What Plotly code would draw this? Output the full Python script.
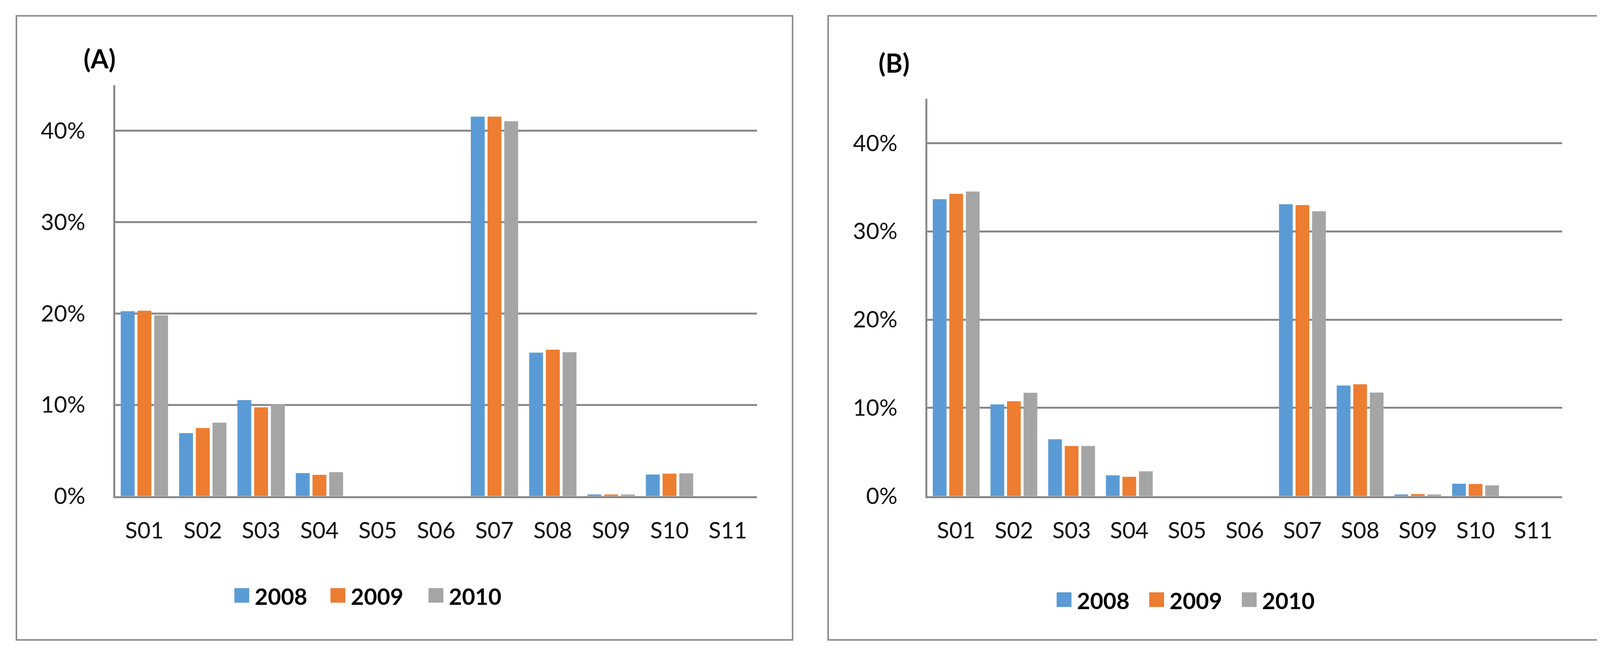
import plotly.graph_objects as go

categories = ["S01", "S02", "S03", "S04", "S05", "S06", "S07", "S08", "S09", "S10", "S11"]
years = ["2008", "2009", "2010"]
colors = ["#5B9BD5", "#ED7D31", "#A5A5A5"]

# Panel (A) shares
a_2008 = [0.2025, 0.069, 0.1052, 0.0253, 0.0, 0.0, 0.4155, 0.1572, 0.0018, 0.0237, 0.0]
a_2009 = [0.2030, 0.0746, 0.0973, 0.0233, 0.0, 0.0, 0.4155, 0.1604, 0.0018, 0.0246, 0.0]
a_2010 = [0.1980, 0.0805, 0.1008, 0.0262, 0.0, 0.0, 0.4105, 0.1576, 0.0018, 0.0250, 0.0]

# Panel (B) shares
b_2008 = [0.3365, 0.1040, 0.0644, 0.0236, 0.0, 0.0, 0.3307, 0.1253, 0.0019, 0.0141, 0.0]
b_2009 = [0.3426, 0.1075, 0.0568, 0.0220, 0.0, 0.0, 0.3298, 0.1267, 0.0024, 0.0137, 0.0]
b_2010 = [0.3451, 0.1171, 0.0568, 0.0281, 0.0, 0.0, 0.3227, 0.1173, 0.0019, 0.0122, 0.0]

y_ticks = [0, 0.1, 0.2, 0.3, 0.4]

FW, FH = 4124, 1702
FONT = "Lato"
GRID = "#898989"


def px(x):
    return x / FW


def py(y):
    return 1 - y / FH


fig = go.Figure()
for vals, yr, col in zip([a_2008, a_2009, a_2010], years, colors):
    fig.add_trace(go.Bar(x=categories, y=vals, name=yr, marker_color=col,
                         marker_line_width=0, xaxis="x", yaxis="y", showlegend=False))
for vals, yr, col in zip([b_2008, b_2009, b_2010], years, colors):
    fig.add_trace(go.Bar(x=categories, y=vals, name=yr, marker_color=col,
                         marker_line_width=0, xaxis="x2", yaxis="y2", showlegend=False))

yax = dict(range=[0, 0.45], tickvals=y_ticks, tickformat=".0%", showgrid=True,
           gridcolor=GRID, gridwidth=5, showline=True, linecolor=GRID, linewidth=5,
           zeroline=False, ticks="", ticklabelstandoff=60,
           tickfont=dict(family=FONT, size=58, color="#111111"))
xax = dict(showgrid=False, showline=True, linecolor=GRID, linewidth=5, ticks="",
           ticklabelstandoff=34, tickfont=dict(family=FONT, size=58, color="#111111"))

fig.update_layout(
    width=FW, height=FH,
    margin=dict(l=0, r=0, t=0, b=0),
    paper_bgcolor="white", plot_bgcolor="white",
    barmode="group", bargap=0.14, bargroupgap=0.17,
    showlegend=False,
    xaxis=dict(domain=[px(287), px(1930)], anchor="y", **xax),
    yaxis=dict(domain=[py(1286), py(214)], anchor="x", **yax),
    xaxis2=dict(domain=[px(2366), px(3991)], anchor="y2", **xax),
    yaxis2=dict(domain=[py(1286), py(250)], anchor="x2", **yax),
)

shapes = []
annotations = []
# panel borders
for x0, x1 in [(34, 2021), (2112, 4083)]:
    shapes.append(dict(type="rect", xref="paper", yref="paper",
                       x0=px(x0), x1=px(x1), y0=py(1661), y1=py(33),
                       line=dict(color="#8c8c8c", width=4), fillcolor="rgba(0,0,0,0)"))

# panel titles
for txt, xc, yc in [("(A)", 247, 144), ("(B)", 2281, 155)]:
    annotations.append(dict(text="<b>" + txt + "</b>", x=px(xc), y=py(yc),
                            xref="paper", yref="paper", xanchor="center", yanchor="middle",
                            showarrow=False, font=dict(family=FONT, size=66, color="black")))

# legends (manual, Excel-like large swatches)
legend_sets = [
    (1545, [592, 838, 1089]),
    (1556, [2697, 2934, 3171]),
]
for yc, xs in legend_sets:
    for x0, yr, col in zip(xs, years, colors):
        shapes.append(dict(type="rect", xref="paper", yref="paper",
                           x0=px(x0), x1=px(x0 + 38), y0=py(yc + 19), y1=py(yc - 19),
                           line=dict(width=0), fillcolor=col))
        annotations.append(dict(text="<b>" + yr + "</b>", x=px(x0 + 50), y=py(yc + 2),
                                xref="paper", yref="paper", xanchor="left", yanchor="middle",
                                showarrow=False,
                                font=dict(family=FONT, size=58, color="black")))

fig.update_layout(shapes=shapes, annotations=annotations)
fig.write_html("out.html")
